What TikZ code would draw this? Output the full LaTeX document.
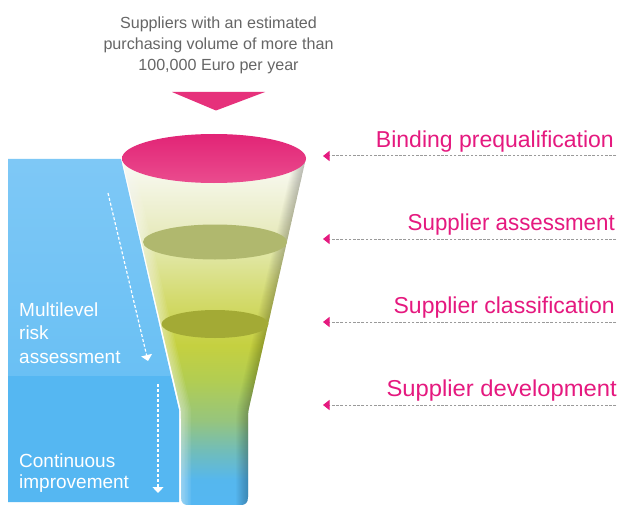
\documentclass[tikz,border=0pt]{standalone}
\usepackage{fontspec}
\setmainfont{Liberation Sans}
\usetikzlibrary{arrows.meta}
\definecolor{tmag}{HTML}{E5197F}
\definecolor{tpink}{HTML}{E6317B}
\definecolor{dashgray}{HTML}{9A9A9A}
\definecolor{c505}{HTML}{55B7F2}
\definecolor{c480}{HTML}{55B7EE}
\definecolor{c450}{HTML}{72BDB8}
\definecolor{c420}{HTML}{97C57C}
\definecolor{c380}{HTML}{B2CD52}
\definecolor{c335}{HTML}{C5D040}
\definecolor{c300}{HTML}{D3DA6C}
\definecolor{c255}{HTML}{E0E6A2}
\definecolor{c230}{HTML}{E8EBC0}
\definecolor{c175}{HTML}{F6F7EA}
\definecolor{c158}{HTML}{FAFAF4}
\definecolor{paneltop}{HTML}{7EC8F6}
\definecolor{panelmid}{HTML}{6AC0F4}
\definecolor{panellow}{HTML}{55B7F2}
\definecolor{levela}{HTML}{B0B86E}
\definecolor{levelb}{HTML}{A3AA35}
\definecolor{rimtop}{HTML}{E22476}
\definecolor{rimlow}{HTML}{EA4C8E}
\definecolor{introgray}{HTML}{666666}
\pgfdeclareverticalshading{funnelv}{100bp}{
 color(0bp)=(c505);color(25bp)=(c505);color(28.6bp)=(c480);color(32.9bp)=(c450);
 color(37.25bp)=(c420);color(43bp)=(c380);color(48bp)=(c335);color(54.5bp)=(c300);
 color(61bp)=(c255);color(64.6bp)=(c230);color(72.55bp)=(c175);color(75bp)=(c158);color(100bp)=(c158)}
\tikzset{
  x=1pt,y=-1pt,
  sidelabel/.style={anchor=west,text=white,font=\fontsize{19}{23}\selectfont,inner sep=0pt,align=left},
  steplabel/.style={anchor=base east,text=tmag,font=\fontsize{23}{27}\selectfont,inner sep=0pt},
  leader/.style={dashgray,line width=1pt,dash pattern=on 2.6pt off 1.6pt,-{Triangle[length=6.5pt,width=10pt,color=tmag]}},
  flow/.style={white,line width=1.2pt,dash pattern=on 3pt off 2pt,-{Triangle[length=6pt,width=11pt,color=white]}}
}
\newcommand{\funnelpath}{(122,158) -- (180.5,408) .. controls (181,412) and (181,416) .. (181,420) -- (181,497) .. controls (181,503) and (184,505) .. (188,505) -- (241,505) .. controls (245,505) and (248,503) .. (248,497) -- (248,420) .. controls (248,416) and (248,412) .. (249,408) -- (306,158) -- cycle}
\begin{document}
\begin{tikzpicture}
\useasboundingbox (0,0) rectangle (620,505);
\fill[white] (0,0) rectangle (620,505);
% side panels
\shade[top color=paneltop,bottom color=panelmid]
  (8,159) -- (121,159) -- (171,376) -- (8,376) -- cycle;
\fill[panellow]
  (8,376) -- (171,376) -- (179,410) -- (179,502) -- (8,502) -- cycle;
% funnel
\shade[shading=funnelv] \funnelpath;
\begin{scope}
  \clip \funnelpath;
  \foreach \w in {2,4,...,24}{
    \draw[black,opacity=0.02,line width=\w pt,line join=round] (306,158) -- (249,408) -- (248,420) -- (248,505);
  }
  \foreach \w in {2,5,...,20}{
    \draw[white,opacity=0.07,line width=\w pt,line join=round] (122,158) -- (181,410) -- (181,505);
  }
\end{scope}
% levels
\fill[levela] (215,242) ellipse [x radius=72,y radius=17.5];
\fill[levelb] (215,324) ellipse [x radius=53.5,y radius=14];
\shade[top color=rimtop,bottom color=rimlow]
  (214,158.5) ellipse [x radius=92,y radius=24.5];
% top label and triangle
\node[inner sep=0pt,align=center,text=introgray,font=\fontsize{16.1}{21.3}\selectfont] (intro) at (218.5,45.5) {Suppliers with an estimated\\purchasing volume of more than\\100,000 Euro per year};
\fill[tpink] (172,92) -- (265,92) -- (216,110.5) -- cycle;
% right labels
\node[steplabel] (s1) at (614,147) {Binding prequalification};
\node[steplabel] (s2) at (615,230) {\scalebox{0.97}[1]{Supplier assessment}};
\node[steplabel] (s3) at (615,313) {Supplier classification};
\node[steplabel] (s4) at (617,396) {\scalebox{1.035}[1]{Supplier development}};
\foreach \n/\y in {1/156,2/239,3/322,4/405}{
  \coordinate (a\n) at (616,\y);
  \coordinate (b\n) at (323,\y);
  \draw[leader] (a\n) -- (b\n);
}
% left labels
\node[sidelabel] (m1) at (19,310) {Multilevel};
\node[sidelabel] (m2) at (19,333) {risk};
\node[sidelabel] (m3) at (19,357) {assessment};
\node[sidelabel] (c1) at (19,461) {Continuous};
\node[sidelabel] (c2) at (19,484) {improvement};
\coordinate (f1a) at (108,193);
\coordinate (f1b) at (148,361);
\coordinate (f2a) at (158,384);
\coordinate (f2b) at (158,493);
\draw[flow] (f1a) -- (f1b);
\draw[flow] (f2a) -- (f2b);
\end{tikzpicture}
\end{document}
